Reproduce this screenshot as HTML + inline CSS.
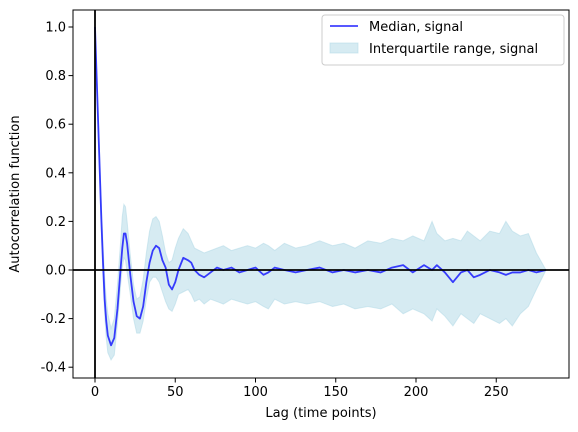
<!DOCTYPE html>
<html><head><meta charset="utf-8"><style>
body{margin:0;background:#fff}
svg{display:block;font-family:"DejaVu Sans","Liberation Sans",sans-serif}
</style></head><body>
<svg id="chart" width="578" height="432">
</svg>
<script>
const lags   = [0,1,2,3,4,5,6,7,8,10,12,14,16,17,18,19,20,22,24,26,28,30,32,34,36,38,40,42,44,46,48,50,52,55,58,60,62,65,68,72,76,80,85,90,95,100,105,108,112,118,125,132,140,148,155,162,170,178,185,192,198,205,210,213,218,223,228,232,236,240,246,252,256,260,265,270,275,281];
const median = [1.0,0.8,0.6,0.4,0.2,0.03,-0.12,-0.21,-0.27,-0.31,-0.28,-0.16,0.01,0.09,0.15,0.15,0.11,-0.02,-0.13,-0.19,-0.2,-0.15,-0.05,0.03,0.08,0.10,0.09,0.04,0.01,-0.06,-0.08,-0.05,0.0,0.05,0.04,0.03,0.0,-0.02,-0.03,-0.01,0.01,0.0,0.01,-0.01,0.0,0.01,-0.02,-0.01,0.01,0.0,-0.01,0.0,0.01,-0.01,0.0,-0.01,0.0,-0.01,0.01,0.02,-0.01,0.02,0.0,0.02,-0.01,-0.05,-0.01,0.0,-0.03,-0.02,0.0,-0.01,-0.02,-0.01,-0.01,0.0,-0.01,0.0];
const upper  = [1.0,0.82,0.63,0.45,0.26,0.1,-0.03,-0.12,-0.18,-0.24,-0.2,-0.06,0.12,0.22,0.27,0.26,0.2,0.06,-0.06,-0.12,-0.11,-0.04,0.07,0.16,0.21,0.22,0.2,0.14,0.07,0.03,0.04,0.09,0.13,0.17,0.15,0.12,0.09,0.08,0.07,0.08,0.09,0.1,0.08,0.09,0.1,0.09,0.11,0.1,0.08,0.11,0.09,0.1,0.12,0.1,0.11,0.09,0.12,0.11,0.13,0.12,0.14,0.12,0.2,0.15,0.12,0.13,0.12,0.16,0.14,0.12,0.16,0.15,0.2,0.16,0.14,0.15,0.07,0.0];
const lower  = [1.0,0.78,0.57,0.36,0.15,-0.03,-0.18,-0.28,-0.34,-0.37,-0.35,-0.22,-0.06,0.01,0.05,0.04,-0.01,-0.1,-0.2,-0.26,-0.26,-0.21,-0.12,-0.05,-0.03,-0.03,-0.05,-0.09,-0.13,-0.16,-0.17,-0.14,-0.1,-0.09,-0.08,-0.1,-0.13,-0.12,-0.14,-0.12,-0.13,-0.14,-0.12,-0.13,-0.14,-0.13,-0.15,-0.16,-0.12,-0.14,-0.13,-0.14,-0.13,-0.15,-0.14,-0.16,-0.15,-0.16,-0.14,-0.18,-0.16,-0.18,-0.21,-0.16,-0.19,-0.23,-0.18,-0.2,-0.22,-0.18,-0.2,-0.22,-0.2,-0.23,-0.18,-0.15,-0.08,0.0];
const xTicks = [0,50,100,150,200,250];
const yTicks = [-0.4,-0.2,0.0,0.2,0.4,0.6,0.8,1.0];

const svg=document.getElementById('chart');
const NS='http://www.w3.org/2000/svg';
const L=73,R=569,T=10,B=378;
const x=v=>95+v*1.605;
const y=v=>270-v*243;
function mk(tag,attrs,parent){const e=document.createElementNS(NS,tag);for(const k in attrs)e.setAttribute(k,attrs[k]);(parent||svg).appendChild(e);return e;}

let d='M'+lags.map((l,i)=>x(l)+','+y(upper[i])).join('L');
for(let i=lags.length-1;i>=0;i--)d+='L'+x(lags[i])+','+y(lower[i]);
const band=mk('path',{d:d+'Z',fill:'#add8e6','fill-opacity':'0.5',stroke:'#add8e6','stroke-opacity':'0.5'});


const line=mk('polyline',{points:lags.map((l,i)=>x(l)+','+y(median[i])).join(' '),fill:'none',stroke:'#0000ff','stroke-opacity':'0.75','stroke-width':'1.8','stroke-linejoin':'round'});


const h=mk('line',{x1:L,x2:R,y1:y(0),y2:y(0),stroke:'#000','stroke-width':'1.8'});


const v=mk('line',{x1:x(0),x2:x(0),y1:T,y2:B,stroke:'#000','stroke-width':'1.8'});


const frame=mk('rect',{x:L,y:T,width:R-L,height:B-T,fill:'none',stroke:'#000','stroke-width':'1'});



xTicks.forEach(t=>{
  mk('line',{x1:x(t),x2:x(t),y1:B,y2:B+4.5,stroke:'#000'});
  const tx=mk('text',{x:x(t),y:B+18,'font-size':'13','text-anchor':'middle'});
  tx.textContent=t;
  
  
});
yTicks.forEach(t=>{
  mk('line',{x1:L-4.5,x2:L,y1:y(t),y2:y(t),stroke:'#000'});
  const tx=mk('text',{x:L-7,y:y(t)+4.5,'font-size':'13','text-anchor':'end'});
  tx.textContent=t.toFixed(1);
  
  
});
const xl=mk('text',{x:(L+R)/2,y:417,'font-size':'13','text-anchor':'middle'});
xl.textContent='Lag (time points)';


const yl=mk('text',{x:0,y:0,'font-size':'13','text-anchor':'middle',transform:'translate(19,'+((T+B)/2)+') rotate(-90)'});
yl.textContent='Autocorrelation function';



const lg=mk('g',{});


mk('rect',{x:322,y:15,width:242,height:50,rx:3,fill:'#fff','fill-opacity':'0.8',stroke:'#ccc'},lg);
mk('line',{x1:330,x2:358,y1:26,y2:26,stroke:'#0000ff','stroke-opacity':'0.75','stroke-width':'1.8'},lg);
mk('rect',{x:330,y:43,width:28,height:10,fill:'#add8e6','fill-opacity':'0.5',stroke:'#add8e6','stroke-opacity':'0.5'},lg);
const t1=mk('text',{x:369,y:31,'font-size':'13'},lg);t1.textContent='Median, signal';


const t2=mk('text',{x:369,y:53,'font-size':'13'},lg);t2.textContent='Interquartile range, signal';


</script>
</body></html>
